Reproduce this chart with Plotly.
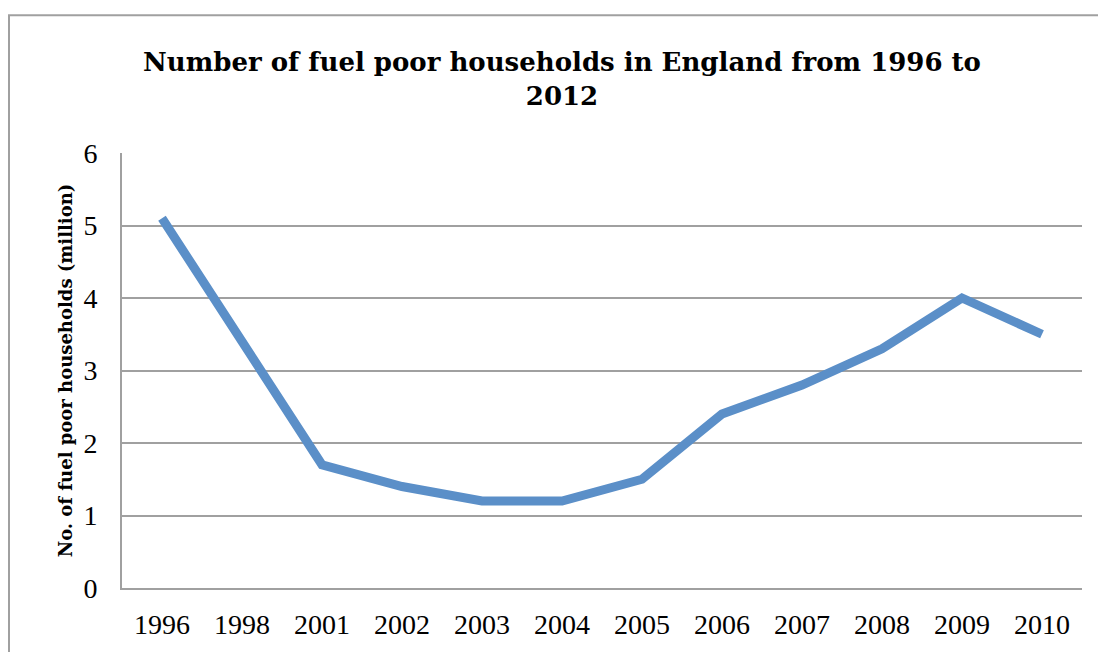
import plotly.graph_objects as go

years = ["1996", "1998", "2001", "2002", "2003", "2004", "2005", "2006", "2007", "2008", "2009", "2010"]
households = [5.1, 3.4, 1.7, 1.4, 1.2, 1.2, 1.5, 2.4, 2.8, 3.3, 4.0, 3.5]

OFF = 8  # page body margin
W, H = 1106 - OFF, 652 - OFF
ml, mr, mt, mb = 122 - OFF, 24, 153 - OFF, 54
pw, ph = W - ml - mr, H - mt - mb

def px2x(px):
    return (px - OFF - ml) / pw

def py2y(py):
    return (H - mb - (py - OFF)) / ph

TICKFONT = "'Liberation Serif', serif"
TITLEFONT = "'DejaVu Serif', serif"

fig = go.Figure()
fig.add_trace(go.Scatter(
    x=years, y=households, mode="lines",
    line=dict(color="#5B8FC8", width=9),
    hoverinfo="x+y", showlegend=False,
))

fig.update_layout(
    width=W, height=H,
    margin=dict(l=ml, r=mr, t=mt, b=mb),
    paper_bgcolor="white", plot_bgcolor="white",
    title=dict(
        text="Number of fuel poor households in England from 1996 to<br>2012",
        x=(562 - OFF) / W, xanchor="center", y=1 - (71 - OFF) / H, yanchor="top",
        font=dict(family=TITLEFONT, size=26, color="black", weight="bold"),
    ),
    xaxis=dict(
        type="category", range=[-0.5, 11.5],
        showgrid=False, showline=True, linecolor="#A0A0A0", linewidth=2,
        ticks="outside", ticklen=10, tickcolor="rgba(0,0,0,0)",
        tickfont=dict(family=TICKFONT, size=28, color="black"),
        fixedrange=True,
    ),
    yaxis=dict(
        range=[0, 6], dtick=1, tick0=0,
        showgrid=True, gridcolor="#A0A0A0", gridwidth=2,
        showline=True, linecolor="#A0A0A0", linewidth=2,
        zeroline=False,
        ticks="outside", ticklen=17, tickcolor="rgba(0,0,0,0)",
        tickfont=dict(family=TICKFONT, size=28, color="black"),
        title=dict(text="No. of fuel poor households (million)",
                   font=dict(family=TITLEFONT, size=18, color="black", weight="bold"),
                   standoff=6),
        fixedrange=True,
    ),
    shapes=[
        dict(type="line", xref="paper", yref="paper",
             x0=px2x(8), x1=px2x(1120), y0=py2y(12), y1=py2y(12),
             line=dict(color="#A0A0A0", width=2)),
        dict(type="line", xref="paper", yref="paper",
             x0=px2x(9), x1=px2x(9), y0=py2y(12), y1=py2y(670),
             line=dict(color="#A0A0A0", width=2)),
    ],
)

fig.write_html("out.html")
